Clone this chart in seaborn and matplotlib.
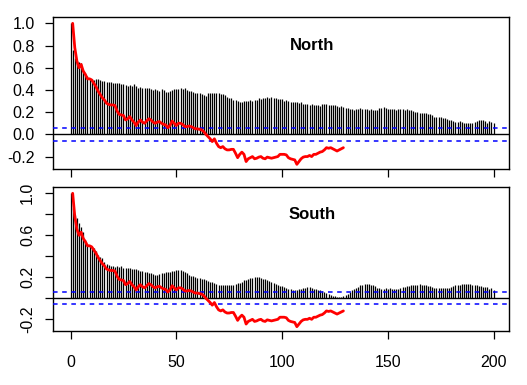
import numpy as np
import pandas as pd
import matplotlib
matplotlib.use("Agg")
import matplotlib.pyplot as plt
import seaborn as sns

# ---------------- data ----------------
lags = list(range(0, 201))

north_acf = [
    1.00, 0.76, 0.685, 0.66, 0.65, 0.64, 0.575, 0.545, 0.53, 0.51,
    0.495, 0.49, 0.50, 0.50, 0.49, 0.485, 0.48, 0.47, 0.475, 0.47,
    0.465, 0.46, 0.465, 0.46, 0.45, 0.45, 0.445, 0.44, 0.445, 0.44,
    0.45, 0.44, 0.42, 0.425, 0.42, 0.42, 0.415, 0.42, 0.41, 0.40,
    0.41, 0.40, 0.395, 0.405, 0.40, 0.38, 0.385, 0.39, 0.40, 0.405,
    0.41, 0.41, 0.42, 0.41, 0.415, 0.40, 0.39, 0.39, 0.38, 0.37,
    0.375, 0.37, 0.36, 0.35, 0.345, 0.37, 0.375, 0.37, 0.37, 0.375,
    0.37, 0.365, 0.36, 0.35, 0.34, 0.33, 0.33, 0.31, 0.305, 0.30,
    0.29, 0.295, 0.30, 0.30, 0.30, 0.31, 0.30, 0.305, 0.31, 0.325,
    0.32, 0.33, 0.33, 0.335, 0.33, 0.34, 0.33, 0.33, 0.32, 0.32,
    0.315, 0.30, 0.305, 0.30, 0.29, 0.29, 0.295, 0.29, 0.285, 0.29,
    0.275, 0.27, 0.27, 0.265, 0.27, 0.265, 0.26, 0.26, 0.255, 0.27,
    0.27, 0.27, 0.265, 0.26, 0.265, 0.26, 0.255, 0.25, 0.255, 0.245,
    0.24, 0.235, 0.23, 0.225, 0.22, 0.225, 0.23, 0.235, 0.23, 0.23,
    0.225, 0.22, 0.225, 0.22, 0.215, 0.22, 0.24, 0.235, 0.245, 0.24,
    0.23, 0.225, 0.225, 0.225, 0.22, 0.225, 0.23, 0.225, 0.22, 0.225,
    0.215, 0.22, 0.21, 0.205, 0.20, 0.195, 0.195, 0.19, 0.19, 0.185,
    0.18, 0.17, 0.155, 0.155, 0.16, 0.155, 0.15, 0.145, 0.14, 0.13,
    0.125, 0.12, 0.115, 0.11, 0.12, 0.11, 0.105, 0.105, 0.10, 0.105,
    0.10, 0.11, 0.12, 0.125, 0.13, 0.125, 0.12, 0.105, 0.12, 0.11,
    0.10,
]

south_acf = [
    1.00, 0.86, 0.79, 0.76, 0.72, 0.68, 0.63, 0.56, 0.52, 0.505,
    0.49, 0.48, 0.45, 0.41, 0.39, 0.38, 0.35, 0.33, 0.32, 0.31,
    0.31, 0.30, 0.31, 0.30, 0.305, 0.29, 0.29, 0.285, 0.29, 0.28,
    0.28, 0.275, 0.27, 0.26, 0.26, 0.255, 0.25, 0.24, 0.24, 0.23,
    0.225, 0.22, 0.235, 0.24, 0.245, 0.25, 0.25, 0.255, 0.26, 0.26,
    0.265, 0.265, 0.265, 0.26, 0.255, 0.24, 0.22, 0.215, 0.21, 0.20,
    0.195, 0.19, 0.185, 0.18, 0.175, 0.165, 0.16, 0.155, 0.15, 0.135,
    0.125, 0.125, 0.125, 0.13, 0.13, 0.125, 0.13, 0.13, 0.14, 0.145,
    0.15, 0.16, 0.17, 0.175, 0.185, 0.19, 0.195, 0.20, 0.20, 0.20,
    0.195, 0.185, 0.18, 0.17, 0.165, 0.155, 0.145, 0.14, 0.13, 0.12,
    0.115, 0.105, 0.10, 0.09, 0.085, 0.08, 0.075, 0.08, 0.085, 0.09,
    0.095, 0.10, 0.105, 0.105, 0.10, 0.09, 0.085, 0.08, 0.075, 0.07,
    0.06, 0.05, 0.045, 0.035, 0.025, 0.02, 0.015, 0.015, 0.01, 0.02,
    0.03, 0.045, 0.06, 0.075, 0.09, 0.10, 0.11, 0.125, 0.13, 0.135,
    0.135, 0.135, 0.13, 0.125, 0.115, 0.10, 0.095, 0.09, 0.09, 0.095,
    0.09, 0.095, 0.09, 0.09, 0.085, 0.09, 0.10, 0.105, 0.11, 0.115,
    0.12, 0.125, 0.13, 0.13, 0.13, 0.135, 0.13, 0.125, 0.13, 0.12,
    0.115, 0.11, 0.10, 0.095, 0.095, 0.095, 0.10, 0.095, 0.10, 0.10,
    0.105, 0.12, 0.125, 0.125, 0.13, 0.135, 0.135, 0.14, 0.14, 0.135,
    0.13, 0.125, 0.125, 0.12, 0.115, 0.11, 0.11, 0.11, 0.09, 0.095,
    0.08,
]

red_lags = list(range(1, 130))
red_values = [
    1.00, 0.78, 0.66, 0.60, 0.63, 0.57, 0.54, 0.50, 0.50, 0.49,
    0.46, 0.43, 0.39, 0.36, 0.33, 0.31, 0.28, 0.27, 0.265, 0.265,
    0.26, 0.21, 0.18, 0.175, 0.17, 0.13, 0.14, 0.16, 0.13, 0.11,
    0.08, 0.11, 0.13, 0.11, 0.10, 0.12, 0.14, 0.13, 0.11, 0.10,
    0.11, 0.115, 0.10, 0.09, 0.085, 0.06, 0.08, 0.12, 0.10, 0.08,
    0.10, 0.10, 0.09, 0.07, 0.07, 0.075, 0.07, 0.06, 0.05, 0.05,
    0.045, 0.04, 0.025, 0.0, -0.02, -0.04, -0.065, -0.04, -0.08, -0.11,
    -0.12, -0.11, -0.13, -0.14, -0.14, -0.135, -0.135, -0.17, -0.21, -0.18,
    -0.16, -0.18, -0.245, -0.22, -0.21, -0.20, -0.22, -0.215, -0.205, -0.20,
    -0.215, -0.22, -0.205, -0.21, -0.215, -0.21, -0.205, -0.20, -0.18, -0.18,
    -0.18, -0.185, -0.21, -0.22, -0.225, -0.23, -0.27, -0.245, -0.22, -0.205,
    -0.20, -0.20, -0.19, -0.20, -0.18, -0.18, -0.17, -0.16, -0.155, -0.14,
    -0.12, -0.125, -0.12, -0.13, -0.14, -0.15, -0.14, -0.13, -0.12,
]

panel_titles = ["North", "South"]
conf_limit = 0.056
x_ticks = [0, 50, 100, 150, 200]
top_yticks = [-0.2, 0.0, 0.2, 0.4, 0.6, 0.8, 1.0]
top_yticklabels = ["-0.2", "0.0", "0.2", "0.4", "0.6", "0.8", "1.0"]
bottom_yticks = [-0.2, 0.0, 0.2, 0.4, 0.6, 0.8, 1.0]
bottom_yticklabels = ["-0.2", "", "0.2", "", "0.6", "", "1.0"]

# ---------------- plotting ----------------
sns.set_theme(style="white")
plt.rcParams["font.family"] = ["Liberation Sans", "DejaVu Sans"]
plt.rcParams["axes.edgecolor"] = "black"
plt.rcParams["axes.linewidth"] = 1.0

W, H = 527, 385
fig = plt.figure(figsize=(W / 100, H / 100), dpi=100)
fig.patch.set_facecolor("white")

ax_top = fig.add_axes([53 / W, 1 - 169 / H, 456 / W, 152 / H])
ax_bot = fig.add_axes([53 / W, 1 - 331.3 / H, 456 / W, 144 / H])

red_df = pd.DataFrame({"lag": red_lags, "value": red_values})
xlim = (-8.3, 207.3)

for ax, acf, title, ylim in [
    (ax_top, north_acf, panel_titles[0], (-0.312, 1.057)),
    (ax_bot, south_acf, panel_titles[1], (-0.314, 1.057)),
]:
    ax.set_facecolor("white")
    ax.vlines(lags, 0, acf, color="black", lw=0.9, zorder=2)
    ax.axhline(0, color="black", lw=1.0, zorder=2)
    for sgn in (1, -1):
        ax.plot(list(xlim), [sgn * conf_limit, sgn * conf_limit],
                color="blue", lw=1.1, linestyle=(0, (3, 3)), zorder=3)
    sns.lineplot(data=red_df, x="lag", y="value", ax=ax, color="#FF0000",
                 lw=2.0, estimator=None, legend=False, zorder=4)
    ax.text(114, 0.80, title, ha="center", va="center", fontsize=12,
            fontweight="bold", color="black")
    ax.set_xlim(*xlim)
    ax.set_ylim(*ylim)
    ax.set_xlabel("")
    ax.set_ylabel("")
    ax.set_xticks(x_ticks)
    for s in ax.spines.values():
        s.set_visible(True)
        s.set_color("black")
        s.set_linewidth(1.0)
    ax.tick_params(axis="both", which="both", direction="out", length=6,
                   width=0.9, color="black", labelsize=11.5,
                   labelcolor="black", left=True, bottom=True)
    ax.grid(False)

ax_top.set_xticklabels([])
ax_top.set_yticks(top_yticks)
ax_top.set_yticklabels(top_yticklabels)
ax_top.tick_params(axis="y", pad=7)

ax_bot.set_xticklabels([str(t) for t in x_ticks])
ax_bot.tick_params(axis="x", pad=11)
ax_bot.set_yticks(bottom_yticks)
ax_bot.set_yticklabels(bottom_yticklabels, rotation=90, va="center")
ax_bot.tick_params(axis="y", pad=7)

fig.savefig("out.png", dpi=100, facecolor="white")
